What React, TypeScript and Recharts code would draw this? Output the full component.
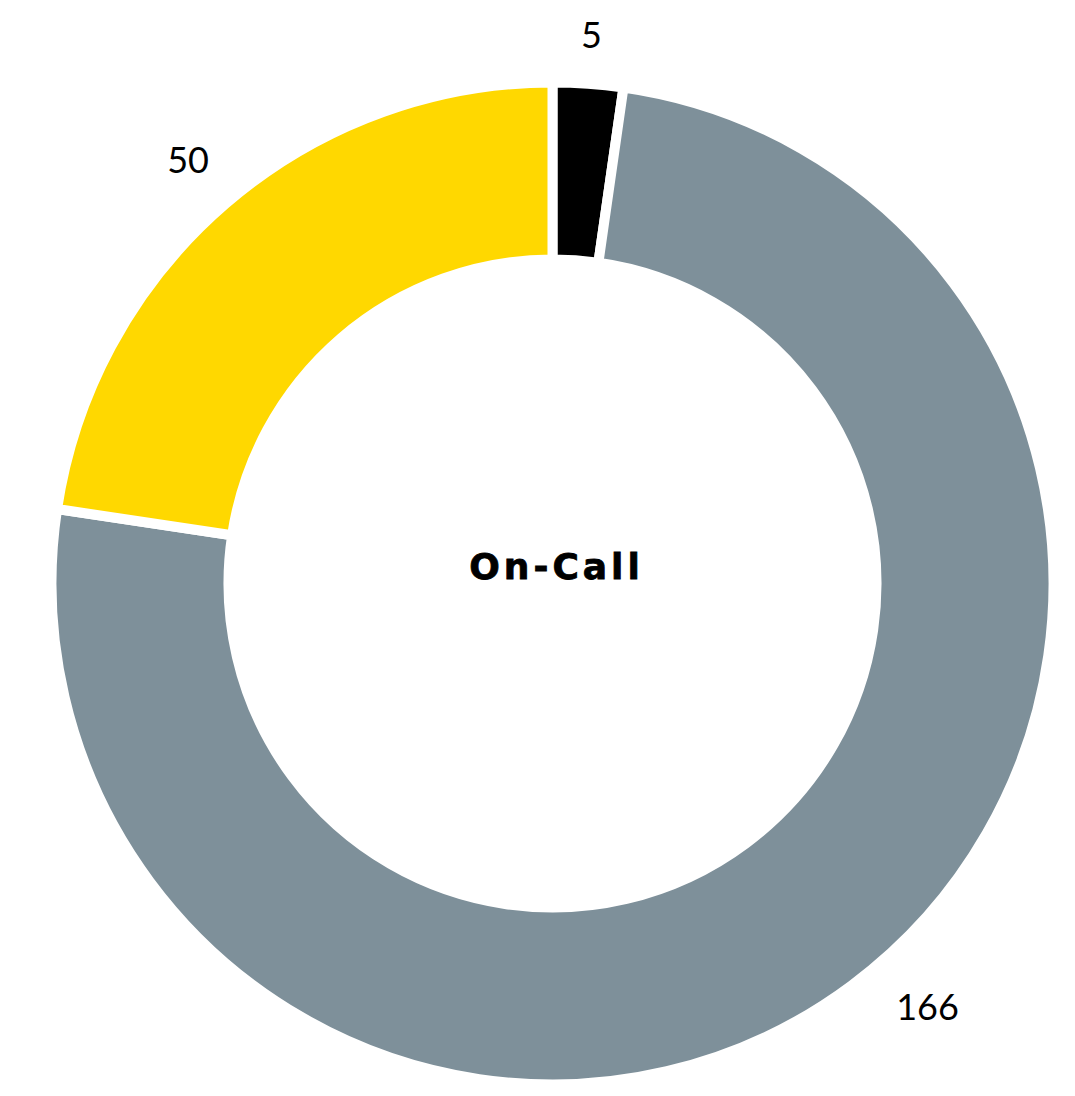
import React from 'react';
import { PieChart, Pie, Cell, Label } from 'recharts';

const categories = ['Black', 'Gray', 'Yellow'];
const values = [5, 166, 50];
const colors = ['#000000', '#7E909A', '#FFD800'];
const centerTitle = 'On-Call';

const data = categories.map((name, i) => ({ name, value: values[i] }));

const RADIAN = Math.PI / 180;
const CHART_W = 1059;
const CHART_H = 1080;
const PIE_CX = 544.5;
const PIE_CY = 575.5;
const LABEL_FONT = 36;
const LABEL_DIGIT_W = 20;
const LABEL_HALF_H = 14;
const LABEL_GAP = 34;
const LABEL_BOTTOM_PAD = 81;

const placeLabel = (cx: number, cy: number, angleDeg: number, R: number, halfW: number) => {
  const c = Math.cos(-angleDeg * RADIAN);
  const s = Math.sin(-angleDeg * RADIAN);
  const r = R + LABEL_GAP + halfW * Math.abs(c) + LABEL_HALF_H * Math.abs(s);
  return { x: cx + r * c, y: cy + r * s };
};

const renderLabel = (props: any) => {
  const { cx, cy, midAngle, outerRadius, value } = props;
  const halfW = (String(value).length * LABEL_DIGIT_W) / 2;
  let angle = midAngle;
  let p = placeLabel(cx, cy, angle, outerRadius, halfW);
  const maxY = CHART_H - LABEL_BOTTOM_PAD;
  // keep labels inside the chart: slide along the ring toward the horizontal
  let guard = 0;
  while (p.y > maxY && guard < 900) {
    const norm = ((angle % 360) + 360) % 360;
    angle += norm > 270 ? 0.1 : -0.1;
    p = placeLabel(cx, cy, angle, outerRadius, halfW);
    guard++;
  }
  return (
    <text
      x={p.x}
      y={p.y + 13}
      fill="#000"
      textAnchor="middle"
      fontFamily="Lato, 'Open Sans', sans-serif"
      fontSize={LABEL_FONT}
      fontWeight={400}
    >
      {value}
    </text>
  );
};

const renderCenter = (props: any) => {
  const vb = props.viewBox || {};
  const cx = typeof vb.cx === 'number' ? vb.cx : PIE_CX;
  const cy = typeof vb.cy === 'number' ? vb.cy : PIE_CY;
  return (
    <text
      x={cx + 4}
      y={cy - 5}
      fill="#000"
      stroke="#000"
      strokeWidth={0.8}
      textAnchor="middle"
      fontFamily="'DejaVu Sans', sans-serif"
      fontSize={36}
      fontWeight={700}
      letterSpacing={4}
    >
      {centerTitle}
    </text>
  );
};

export default function App() {
  return (
    <PieChart width={CHART_W} height={CHART_H} margin={{ top: 0, right: 0, bottom: 0, left: 0 }}>
      <Pie
        data={data}
        dataKey="value"
        nameKey="name"
        cx={PIE_CX}
        cy={PIE_CY}
        innerRadius={324}
        outerRadius={501}
        startAngle={90}
        endAngle={-270}
        stroke="#ffffff"
        strokeWidth={10}
        label={renderLabel}
        labelLine={false}
        isAnimationActive={false}
      >
        {data.map((d, i) => (
          <Cell key={d.name} fill={colors[i]} stroke="#ffffff" strokeWidth={10} />
        ))}
        <Label position="center" content={renderCenter} />
      </Pie>
    </PieChart>
  );
}
